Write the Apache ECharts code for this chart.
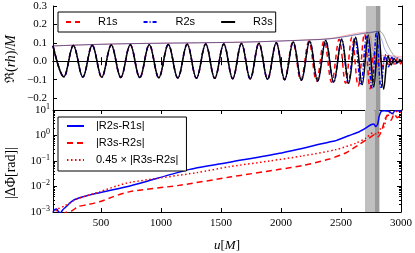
<!DOCTYPE html>
<html><head><meta charset="utf-8">
<script src="https://cdn.jsdelivr.net/npm/echarts@6/dist/echarts.min.js"></script>
<style>html,body{margin:0;padding:0;background:#fff}#c{width:415px;height:253px}</style>
</head><body><div id="c"></div>
<script>
// ---- tick labels ----
const uTicks = [500, 1000, 1500, 2000, 2500, 3000];
const reTicks = [-0.2, -0.1, 0.0, 0.1, 0.2, 0.3];
const logTicks = [1e-3, 1e-2, 1e-1, 1, 10];
const logMinorTicks = [];
[1e-3, 1e-2, 1e-1, 1].forEach(d => { for (let k = 2; k <= 9; k++) logMinorTicks.push(+(k * d).toPrecision(3)); });
const bandLight = [2700, 2780];
const bandDark = [2780, 2820];

// ---- top panel: Re(rh)/M ----
const r3s = [[100,0.084],[190,-0.085],[269,0.086],[348,-0.086],[426,0.087],[505,-0.087],[584,0.088],[663,-0.088],[742,0.089],[821,-0.089],[900,0.09],[979,-0.09],[1058,0.091],[1137,-0.091],[1215,0.092],[1292,-0.092],[1369,0.093],[1444,-0.093],[1519,0.094],[1593,-0.095],[1666,0.096],[1739,-0.096],[1811,0.098],[1883,-0.098],[1955,0.1],[2025,-0.1],[2096,0.104],[2164,-0.104],[2233,0.108],[2299,-0.108],[2366,0.113],[2432,-0.114],[2499,0.12],[2557,-0.12],[2615,0.13],[2669,-0.128],[2719,0.142],[2765,-0.14],[2806,0.158],[2848,-0.152],[2885,0.03],[2910,-0.02],[2935,0.015],[2960,-0.01],[2985,0.006],[3000,-0.002]];
const r2s = [[100,0.084],[190,-0.085],[269,0.086],[348,-0.086],[426,0.087],[505,-0.087],[584,0.088],[663,-0.088],[742,0.089],[821,-0.089],[900,0.09],[979,-0.09],[1058,0.091],[1137,-0.091],[1215,0.092],[1292,-0.092],[1369,0.093],[1444,-0.093],[1519,0.094],[1593,-0.095],[1666,0.096],[1739,-0.096],[1811,0.098],[1883,-0.098],[1955,0.1],[2025,-0.1],[2096,0.104],[2164,-0.104],[2233,0.108],[2299,-0.108],[2366,0.113],[2432,-0.114],[2499,0.12],[2553,-0.12],[2608,0.128],[2658,-0.13],[2705,0.14],[2750,-0.145],[2788,0.158],[2826,-0.148],[2860,0.035],[2888,-0.03],[2915,0.02],[2945,-0.015],[2975,0.01],[3000,-0.004]];
const r1s = [[100,0.084],[190,-0.085],[269,0.086],[348,-0.086],[426,0.087],[505,-0.087],[584,0.088],[663,-0.088],[742,0.089],[821,-0.089],[900,0.09],[979,-0.09],[1058,0.091],[1137,-0.091],[1215,0.092],[1292,-0.092],[1369,0.093],[1444,-0.093],[1519,0.094],[1593,-0.095],[1666,0.096],[1739,-0.096],[1811,0.098],[1883,-0.098],[1955,0.1],[2023,-0.1],[2093,0.104],[2159,-0.104],[2226,0.108],[2289,-0.108],[2353,0.113],[2415,-0.114],[2478,0.12],[2531,-0.12],[2583,0.13],[2636,-0.135],[2688,0.15],[2735,-0.15],[2765,0.04],[2790,-0.035],[2815,0.03],[2840,-0.03],[2865,0.028],[2890,-0.025],[2915,0.022],[2940,-0.02],[2965,0.018],[2990,-0.015],[3000,0.0]];
const amp3 = [[100,0.083],[500,0.092],[900,0.097],[1300,0.1],[1700,0.104],[1950,0.109],[2200,0.115],[2403,0.122],[2569,0.138],[2678,0.15],[2760,0.157],[2810,0.163],[2843,0.146],[2885,0.082],[2926,0.037],[2968,0.01],[3000,0.005]];
const amp2 = [[100,0.083],[500,0.092],[900,0.097],[1300,0.1],[1700,0.104],[1950,0.109],[2200,0.115],[2403,0.122],[2569,0.139],[2678,0.152],[2760,0.16],[2790,0.162],[2830,0.12],[2860,0.06],[2900,0.03],[3000,0.015]];
const amp1 = [[100,0.083],[500,0.092],[900,0.097],[1300,0.1],[1700,0.104],[1950,0.109],[2200,0.116],[2403,0.124],[2569,0.145],[2650,0.155],[2700,0.158],[2735,0.14],[2760,0.06],[2800,0.035],[2900,0.03],[3000,0.025]];

// ---- bottom panel: |dPhi| ----
const d21 = [[100,1.0e-3],[115,1.25e-3],[130,1.3e-3],[145,1.05e-3],[160,0.9e-3],[180,1.2e-3],[202,1.5e-3],[271,2.9e-3],[354,4.0e-3],[465,5.4e-3],[659,8.5e-3],[825,1.35e-2],[1240,4.7e-2],[1573,9.0e-2],[1988,0.2],[2403,0.56],[2459,0.63],[2569,1.0],[2652,1.41],[2702,1.9],[2750,2.63],[2773,2.8],[2789,2.24],[2806,2.8],[2818,5.6],[2835,8.9],[2860,9.3],[2901,8.9],[2926,7.1],[2951,9.3],[3000,9.1]];
const d32 = [[100,5e-4],[216,1.0e-3],[258,1.12e-3],[313,1.66e-3],[382,1.9e-3],[493,2.57e-3],[603,4.0e-3],[742,6.3e-3],[1157,1.12e-2],[1573,2.34e-2],[1988,4.7e-2],[2179,6.6e-2],[2403,0.12],[2542,0.21],[2652,0.45],[2735,0.79],[2785,1.1],[2810,0.9],[2843,1.78],[2868,4.5],[2893,6.3],[2918,4.0],[2943,7.1],[2968,5.0],[3000,6.3]];
const d32s = [[100,0.8e-3],[136,1.26e-3],[202,1.78e-3],[299,3.2e-3],[493,6.3e-3],[632,1.05e-2],[742,1.45e-2],[1299,3.5e-2],[1573,6.0e-2],[1905,0.1],[2179,0.158],[2459,0.28],[2625,0.5],[2708,0.79],[2764,1.26],[2802,1.12],[2827,1.78],[2860,2.24],[2877,5.0],[2901,7.9],[2935,7.1],[2968,8.9],[3000,7.9]];

const SERIF = 'Liberation Serif';
const SANS = 'Liberation Sans';
const RED = '#ff0000', BLUE = '#0000ff', BLACK = '#000000';

function supLabel(v) {
  const e = Math.round(Math.log10(v));
  return '{b|10}{s|' + (e < 0 ? '\u2212' + (-e) : String(e)) + '}';
}
const supRich = {
  b: { fontFamily: SERIF, fontSize: 11, color: '#000' },
  s: { fontFamily: SERIF, fontSize: 8, color: '#000', padding: [0, 0, 7, 0] }
};
const line = { show: true, lineStyle: { color: '#000', width: 1 } };
function xAx(grid, pos, labels) {
  return {
    type: 'value', gridIndex: grid, position: pos, min: 100, max: 3000,
    axisLine: line, splitLine: { show: false },
    axisTick: { show: true, inside: true, length: 4, customValues: uTicks, lineStyle: { color: '#000' } },
    axisLabel: labels ? { show: true, customValues: uTicks, margin: 6, fontFamily: SERIF, fontSize: 11, color: '#000', formatter: v => String(v) } : { show: false }
  };
}
const markBands = {
  silent: true,
  data: [
    [{ xAxis: bandLight[0], itemStyle: { color: '#c0c0c0' } }, { xAxis: bandLight[1] }],
    [{ xAxis: bandDark[0], itemStyle: { color: '#9a9a9a' } }, { xAxis: bandDark[1] }]
  ]
};
function topSeries(name, data, color, type, width, z) {
  return { name, type: 'line', xAxisIndex: 0, yAxisIndex: 0, data, showSymbol: false, symbol: 'none',
    smooth: 0.37, z, lineStyle: { color, width, type }, itemStyle: { color } };
}
function botSeries(name, data, color, type, width) {
  return { name, type: 'line', xAxisIndex: 2, yAxisIndex: 2, data, showSymbol: false, symbol: 'none',
    smooth: 0.25, z: 3, lineStyle: { color, width, type }, itemStyle: { color } };
}

const chart = echarts.init(document.getElementById('c'), null, { renderer: 'canvas' });
chart.setOption({
  animation: false,
  backgroundColor: '#fff',
  grid: [
    { left: 53, top: 6, width: 349, height: 104 },
    { left: 53, top: 110, width: 349, height: 104 }
  ],
  xAxis: [
    xAx(0, 'bottom', false),
    xAx(0, 'top', false),
    Object.assign(xAx(1, 'bottom', true), {
      name: '{i|u}{n|[}{i|M}{n|]}', nameLocation: 'middle', nameGap: 27,
      nameTextStyle: { rich: { i: { fontFamily: SERIF, fontStyle: 'italic', fontSize: 13, color: '#000' }, n: { fontFamily: SERIF, fontSize: 13, color: '#000' } } }
    }),
    xAx(1, 'top', false)
  ],
  yAxis: [
    { type: 'value', gridIndex: 0, position: 'left', min: -0.265, max: 0.3, axisLine: line, splitLine: { show: false },
      axisTick: { show: true, inside: true, length: 4, customValues: reTicks, lineStyle: { color: '#000' } },
      axisLabel: { show: true, customValues: reTicks, margin: 6, fontFamily: SERIF, fontSize: 11, color: '#000',
        formatter: v => (v < -1e-9 ? '\u2212' : '') + Math.abs(v).toFixed(1) } },
    { type: 'value', gridIndex: 0, position: 'right', min: -0.265, max: 0.3, axisLine: line, splitLine: { show: false },
      axisTick: { show: true, inside: true, length: 4, customValues: reTicks, lineStyle: { color: '#000' } },
      axisLabel: { show: false } },
    { type: 'log', logBase: 10, gridIndex: 1, position: 'left', min: 1e-3, max: 10, axisLine: line, splitLine: { show: false },
      axisTick: { show: true, inside: true, length: 4, customValues: logTicks, lineStyle: { color: '#000' } },
      axisLabel: { show: true, customValues: logTicks, margin: 3, formatter: supLabel, rich: supRich } },
    { type: 'log', logBase: 10, gridIndex: 1, position: 'right', min: 1e-3, max: 10, axisLine: line, splitLine: { show: false },
      axisTick: { show: true, inside: true, length: 4, customValues: logTicks, lineStyle: { color: '#000' } },
      axisLabel: { show: false } },
    { type: 'log', logBase: 10, gridIndex: 1, position: 'left', min: 1e-3, max: 10, axisLine: { show: false }, splitLine: { show: false },
      axisTick: { show: true, inside: true, length: 2, customValues: logMinorTicks, lineStyle: { color: '#000' } },
      axisLabel: { show: false } },
    { type: 'log', logBase: 10, gridIndex: 1, position: 'right', min: 1e-3, max: 10, axisLine: { show: false }, splitLine: { show: false },
      axisTick: { show: true, inside: true, length: 2, customValues: logMinorTicks, lineStyle: { color: '#000' } },
      axisLabel: { show: false } }
  ],
  legend: [
    { data: ['R1s', 'R2s', 'R3s'], orient: 'horizontal', left: 58, top: 12, itemWidth: 14, itemHeight: 12, itemGap: 25,
      padding: [4, 3, 4, 7], backgroundColor: '#fff', borderColor: '#000', borderWidth: 1, borderRadius: 0,
      itemStyle: { opacity: 0 },
      textStyle: { fontFamily: SANS, fontSize: 11, color: '#000', lineHeight: 12, padding: [0, 0, 0, 13] } },
    { data: ['|R2s-R1s|', '|R3s-R2s|', '0.45 \u00d7 |R3s-R2s|'], orient: 'vertical', left: 58, top: 117, itemWidth: 17, itemHeight: 12, itemGap: 5,
      padding: [3, 8, 5, 8], backgroundColor: '#fff', borderColor: '#000', borderWidth: 1, borderRadius: 0,
      itemStyle: { opacity: 0 },
      textStyle: { fontFamily: SANS, fontSize: 11, color: '#000', lineHeight: 12, padding: [0, 0, 0, 7] } }
  ],
  graphic: [
    { type: 'text', x: 11, y: 59, rotation: Math.PI / 2, z: 10,
      style: { text: '{f|\u211c}{n|(}{i|rh}{n|)/}{i|M}', align: 'center', verticalAlign: 'middle',
        rich: { f: { fontFamily: 'DejaVu Serif', fontSize: 13, color: '#000' }, n: { fontFamily: SERIF, fontSize: 14, color: '#000' }, i: { fontFamily: SERIF, fontStyle: 'italic', fontSize: 14, color: '#000' } } } },
    { type: 'text', x: 11, y: 173, rotation: Math.PI / 2, z: 10,
      style: { text: '|\u0394\u03a6[rad]|', align: 'center', verticalAlign: 'middle', fontFamily: SERIF, fontSize: 14, fill: '#000' } }
  ],
  series: [
    Object.assign(topSeries('amp1', amp1, 'rgba(255,0,0,0.6)', 'solid', 0.5, 1), { markArea: markBands }),
    topSeries('amp2', amp2, 'rgba(0,0,255,0.6)', 'solid', 0.5, 1),
    topSeries('amp3', amp3, 'rgba(0,0,0,0.7)', 'solid', 0.5, 1),
    topSeries('R1s', r1s, RED, [5, 4], 1.5, 2),
    topSeries('R2s', r2s, BLUE, [4, 2, 1, 2], 1.5, 2),
    topSeries('R3s', r3s, BLACK, 'solid', 1.5, 2),
    Object.assign(botSeries('|R2s-R1s|', d21, BLUE, 'solid', 1.5), { markArea: markBands, z: 3 }),
    botSeries('|R3s-R2s|', d32, RED, [6, 4], 1.5),
    botSeries('0.45 \u00d7 |R3s-R2s|', d32s, RED, [1.5, 2.5], 1.5)
  ]
});
</script></body></html>
